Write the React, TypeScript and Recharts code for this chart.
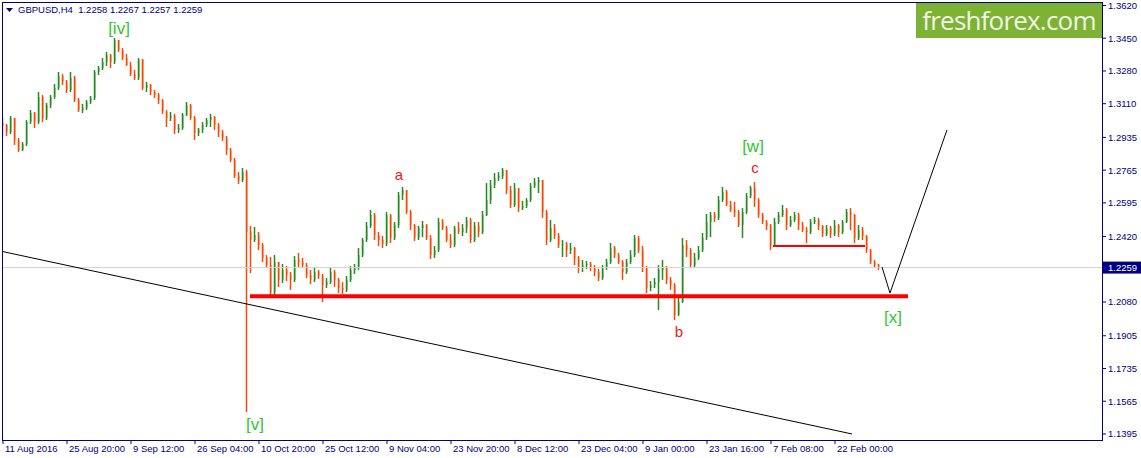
import { Bar, ComposedChart, Line, ReferenceDot, ReferenceLine, XAxis, YAxis } from 'recharts'

// GBPUSD H4, one candle per ~4px column of the original terminal chart
const closes = [
  1.2999, 1.2963, 1.3036, 1.2922, 1.287, 1.2901, 1.3015, 1.3062, 1.3015, 1.3145,
  1.3036, 1.3103, 1.3145, 1.3192, 1.3254, 1.3223, 1.3181, 1.3244, 1.3129, 1.3077,
  1.3088, 1.3119, 1.314, 1.3275, 1.3296, 1.3327, 1.3363, 1.3327, 1.3441, 1.3389,
  1.3347, 1.3311, 1.3264, 1.3244, 1.3337, 1.3192, 1.3207, 1.3171, 1.3155, 1.3129,
  1.3067, 1.3036, 1.3046, 1.2974, 1.2984, 1.3051, 1.3103, 1.3036, 1.2958, 1.2974,
  1.2999, 1.3025, 1.3041, 1.2999, 1.2963, 1.2932, 1.287, 1.2818, 1.2735, 1.2714,
  1.2755, 1.2444, 1.2402, 1.2428, 1.2376, 1.2309, 1.2272, 1.2132, 1.2288, 1.2195,
  1.2246, 1.2221, 1.2195, 1.2298, 1.2288, 1.2272, 1.2221, 1.2195, 1.2236, 1.2215,
  1.2169, 1.2184, 1.2236, 1.2195, 1.2153, 1.2143, 1.2195, 1.2246, 1.2257, 1.2324,
  1.2402, 1.2475, 1.2532, 1.2428, 1.2402, 1.2382, 1.2532, 1.2413, 1.248, 1.2636,
  1.2662, 1.2548, 1.248, 1.2413, 1.2465, 1.248, 1.2413, 1.2324, 1.235, 1.2496,
  1.2465, 1.2402, 1.2376, 1.2465, 1.2444, 1.2465, 1.2506, 1.2402, 1.2475, 1.2444,
  1.2532, 1.261, 1.2688, 1.2724, 1.2735, 1.2766, 1.2662, 1.2584, 1.2672, 1.2568,
  1.2579, 1.261, 1.2683, 1.2703, 1.2714, 1.2548, 1.2402, 1.2465, 1.2428, 1.2376,
  1.2382, 1.235, 1.2361, 1.2309, 1.2257, 1.2272, 1.2278, 1.2257, 1.2236, 1.2205,
  1.2257, 1.2288, 1.2361, 1.2324, 1.2288, 1.2236, 1.2288, 1.2324, 1.2413, 1.235,
  1.2257, 1.2153, 1.2169, 1.2184, 1.2246, 1.2257, 1.2195, 1.2169, 1.2013, 1.208,
  1.2376, 1.235, 1.2272, 1.2309, 1.235, 1.2413, 1.2496, 1.2532, 1.2517, 1.261,
  1.2652, 1.2584, 1.2558, 1.2548, 1.248, 1.2548, 1.2631, 1.2672, 1.261, 1.2532,
  1.2496, 1.2475, 1.2376, 1.2496, 1.2532, 1.2558, 1.248, 1.2506, 1.2532, 1.248,
  1.2454, 1.2444, 1.2496, 1.2506, 1.2475, 1.2433, 1.2465, 1.2433, 1.248, 1.2444,
  1.2496, 1.2548, 1.2532, 1.2413, 1.2454, 1.2423, 1.235, 1.2288, 1.2272, 1.2259
]
const highs = [
  1.3036, 1.3005, 1.3046, 1.3036, 1.2932, 1.2911, 1.3025, 1.3077, 1.3067, 1.3171,
  1.3155, 1.3114, 1.3155, 1.3212, 1.3275, 1.3264, 1.3233, 1.3275, 1.3254, 1.314,
  1.3109, 1.3129, 1.315, 1.3285, 1.3306, 1.3347, 1.3379, 1.3368, 1.3451, 1.3436,
  1.3399, 1.3368, 1.3327, 1.3285, 1.3347, 1.3342, 1.3223, 1.3212, 1.3181, 1.3166,
  1.3135, 1.3077, 1.3067, 1.3057, 1.3005, 1.3062, 1.3119, 1.3109, 1.3046, 1.2984,
  1.3015, 1.3036, 1.3057, 1.3046, 1.301, 1.2974, 1.2942, 1.288, 1.2828, 1.2755,
  1.2776, 1.2766, 1.2475, 1.247, 1.2444, 1.2387, 1.2324, 1.2314, 1.2324, 1.2288,
  1.2278, 1.2267, 1.2236, 1.2319, 1.2335, 1.2309, 1.2283, 1.2247, 1.2257, 1.2247,
  1.2226, 1.2205, 1.2257, 1.2247, 1.2205, 1.2184, 1.2215, 1.2267, 1.2278, 1.2361,
  1.2413, 1.2496, 1.2558, 1.2543, 1.2444, 1.2423, 1.2548, 1.2537, 1.2496, 1.2652,
  1.2678, 1.2652, 1.2558, 1.2485, 1.2475, 1.2501, 1.2485, 1.2428, 1.2371, 1.2517,
  1.2511, 1.2475, 1.2433, 1.2475, 1.2496, 1.2485, 1.2522, 1.2517, 1.2496, 1.2496,
  1.2553, 1.2698, 1.2714, 1.275, 1.2755, 1.2776, 1.2766, 1.2683, 1.2698, 1.2672,
  1.2605, 1.262, 1.2698, 1.2724, 1.2729, 1.2714, 1.2558, 1.2506, 1.2485, 1.2439,
  1.2402, 1.2392, 1.2387, 1.2366, 1.2319, 1.2298, 1.2293, 1.2288, 1.2272, 1.2252,
  1.2272, 1.2304, 1.2387, 1.2371, 1.2335, 1.2298, 1.2304, 1.235, 1.2428, 1.2423,
  1.2371, 1.2267, 1.2189, 1.2205, 1.2272, 1.2298, 1.2267, 1.221, 1.2179, 1.2106,
  1.2413, 1.2402, 1.2361, 1.2335, 1.2371, 1.2439, 1.2537, 1.2548, 1.2548, 1.2631,
  1.2678, 1.2662, 1.2605, 1.26, 1.2558, 1.2568, 1.2646, 1.2683, 1.2703, 1.262,
  1.2543, 1.2506, 1.2485, 1.2517, 1.2548, 1.2584, 1.2568, 1.2527, 1.2548, 1.2543,
  1.2496, 1.247, 1.2511, 1.2522, 1.2517, 1.248, 1.248, 1.2475, 1.2506, 1.2485,
  1.2506, 1.2563, 1.2568, 1.2537, 1.248, 1.247, 1.2428, 1.2356, 1.2298, 1.2278
]
const lows = [
  1.2937, 1.2942, 1.2953, 1.2896, 1.2859, 1.2864, 1.289, 1.3005, 1.2984, 1.3005,
  1.3015, 1.3025, 1.3088, 1.3135, 1.3181, 1.3207, 1.3166, 1.3171, 1.3119, 1.3067,
  1.3062, 1.3077, 1.3109, 1.3129, 1.3259, 1.3285, 1.3306, 1.3296, 1.3316, 1.3379,
  1.3337, 1.3306, 1.3254, 1.3233, 1.3233, 1.3181, 1.3171, 1.3155, 1.314, 1.3109,
  1.3057, 1.2989, 1.302, 1.2953, 1.2958, 1.2974, 1.3046, 1.3025, 1.2922, 1.2942,
  1.2958, 1.2989, 1.2989, 1.2974, 1.2937, 1.2916, 1.2844, 1.2807, 1.2724, 1.2693,
  1.2703, 1.1509, 1.2231, 1.2392, 1.235, 1.2288, 1.2257, 1.2106, 1.2101, 1.2158,
  1.2179, 1.2189, 1.2143, 1.2184, 1.2262, 1.2257, 1.2205, 1.2174, 1.2184, 1.22,
  1.208, 1.2153, 1.2174, 1.2158, 1.2127, 1.2122, 1.2132, 1.2184, 1.2226, 1.2247,
  1.2314, 1.2392, 1.2465, 1.2402, 1.2371, 1.2361, 1.2371, 1.2387, 1.2402, 1.2465,
  1.261, 1.2537, 1.2454, 1.2397, 1.2402, 1.2418, 1.2402, 1.2304, 1.2309, 1.234,
  1.2454, 1.2392, 1.2361, 1.2366, 1.2433, 1.2423, 1.2439, 1.2387, 1.2392, 1.2418,
  1.2433, 1.2527, 1.2589, 1.2672, 1.2709, 1.2719, 1.2641, 1.2568, 1.2574, 1.2548,
  1.2558, 1.2568, 1.26, 1.2672, 1.2646, 1.2517, 1.2376, 1.2392, 1.2408, 1.2361,
  1.2314, 1.2314, 1.233, 1.2272, 1.2231, 1.2236, 1.2252, 1.2241, 1.2215, 1.2189,
  1.2195, 1.2247, 1.2278, 1.2309, 1.2278, 1.2195, 1.2226, 1.2278, 1.2314, 1.2335,
  1.2236, 1.2127, 1.2137, 1.2153, 1.2039, 1.2195, 1.2174, 1.2143, 1.1987, 1.2008,
  1.2075, 1.2314, 1.2257, 1.2262, 1.2298, 1.234, 1.2402, 1.2418, 1.2496, 1.2506,
  1.26, 1.2579, 1.2548, 1.2522, 1.247, 1.2413, 1.2537, 1.262, 1.2574, 1.2517,
  1.2485, 1.2454, 1.235, 1.2366, 1.2485, 1.2522, 1.2454, 1.247, 1.2496, 1.2454,
  1.2444, 1.2387, 1.2433, 1.2485, 1.2454, 1.2418, 1.2423, 1.2413, 1.2423, 1.2418,
  1.2433, 1.2491, 1.2454, 1.2387, 1.2402, 1.2402, 1.2335, 1.2278, 1.2257, 1.2247
]
const firstOpen = 1.301

const headerQuote = ['GBPUSD,H4', '1.2258', '1.2267', '1.2257', '1.2259']

const dateTicks = [0, 16, 32, 48, 64, 80, 96, 112, 128, 144, 160, 176, 192, 208]
const dateLabels = [
  '11 Aug 2016', '25 Aug 20:00', '9 Sep 12:00', '26 Sep 04:00', '10 Oct 20:00',
  '25 Oct 12:00', '9 Nov 04:00', '23 Nov 20:00', '8 Dec 12:00', '23 Dec 04:00',
  '9 Jan 00:00', '23 Jan 16:00', '7 Feb 08:00', '22 Feb 00:00'
]
const priceTicks = [
  1.362, 1.345, 1.328, 1.311, 1.2935, 1.2765, 1.2595, 1.242, 1.208, 1.1905,
  1.1735, 1.1565, 1.1395
]

const trendLine = [{ i: -0.25, p: 1.2343 }, { i: 212.25, p: 1.1395 }]
const supportLine = [{ i: 61.75, p: 1.211 }, { i: 226.25, p: 1.211 }]
const pivotLine = [{ i: 192.5, p: 1.2371 }, { i: 215.5, p: 1.2371 }]
const projection = [{ i: 219.75, p: 1.2262 }, { i: 221.75, p: 1.2127 }, { i: 236, p: 1.2974 }]

const waveLabels = [
  { text: '[iv]', i: 29, p: 1.3503, color: '#33c433', size: 17 },
  { text: '[v]', i: 63, p: 1.1447, color: '#33c433', size: 17 },
  { text: 'a', i: 99, p: 1.274, color: '#f01818', size: 15 },
  { text: 'b', i: 169, p: 1.1925, color: '#f01818', size: 15 },
  { text: '[w]', i: 187.5, p: 1.289, color: '#33c433', size: 17 },
  { text: 'c', i: 188, p: 1.2776, color: '#f01818', size: 15 },
  { text: '[x]', i: 222.5, p: 1.2002, color: '#33c433', size: 17 }
]

const NAVY = '#000080'
const UP = '#228b22'
const DOWN = '#ff4500'
const FONT = '"Liberation Sans", Arial, sans-serif'

const candles = closes.map((close, i) => {
  const open = i === 0 ? firstOpen : closes[i - 1]
  const high = Math.max(open, close, highs[i])
  const low = Math.min(open, close, lows[i])
  return { i, open, close, high, low, range: [low, high] }
})
const lastClose = closes[closes.length - 1]

function Candle(props: any) {
  const { x, y, width, height, index } = props
  const d = candles[index]
  if (x == null || y == null || !d) return null
  const { open, close, high, low } = d
  const k = high > low ? height / (high - low) : 0
  const top = y + (high - Math.max(open, close)) * k
  const bottom = y + (high - Math.min(open, close)) * k
  const color = close > open ? UP : close < open ? DOWN : '#000'
  const cx = Math.floor(x + width / 2) + 0.5
  return (
    <g>
      <line x1={cx} x2={cx} y1={y} y2={y + height} stroke={color} strokeWidth={1.5} />
      <rect x={x} y={top} width={width} height={Math.max(1, bottom - top)} fill={color} />
    </g>
  )
}

function DateTick({ x, y, payload }: any) {
  const label = dateLabels[dateTicks.indexOf(payload.value)]
  return (
    <g>
      <line x1={x} x2={x} y1={y} y2={y + 4} stroke={NAVY} />
      <text x={x + 2} y={y + 12} fill={NAVY} fontSize={9.5} fontFamily={FONT}>
        {label}
      </text>
    </g>
  )
}

function PriceTag(props: any) {
  const vb = props.viewBox
  if (!vb) return null
  const left = vb.x + vb.width + 1
  return (
    <g>
      <rect x={left} y={vb.y - 6} width={40} height={12} fill={NAVY} />
      <text x={left + 5} y={vb.y + 3.5} fill="#fff" fontSize={9.5} fontFamily={FONT}>
        {lastClose.toFixed(4)}
      </text>
    </g>
  )
}

export default function App() {
  return (
    <div style={{ position: 'absolute', left: 0, top: 0, width: 1141, height: 458, background: '#fff' }}>
      <ComposedChart
        width={1141}
        height={458}
        data={candles}
        margin={{ top: 2, right: 0, bottom: 0, left: 2 }}
        style={{ fontFamily: FONT }}>
        <XAxis
          dataKey="i"
          type="number"
          domain={[-0.25, 274.75]}
          allowDataOverflow
          ticks={dateTicks}
          interval={0}
          tick={<DateTick />}
          tickLine={false}
          tickSize={0}
          tickMargin={0}
          axisLine={false}
          height={18}
        />
        <YAxis
          orientation="right"
          type="number"
          domain={[1.13637, 1.36382]}
          allowDataOverflow
          ticks={priceTicks}
          interval={0}
          tickFormatter={(v: number) => v.toFixed(4)}
          tick={{ fontSize: 9.5, fill: NAVY, fontFamily: FONT }}
          tickLine={{ stroke: NAVY }}
          tickSize={4}
          tickMargin={2}
          axisLine={false}
          width={39}
        />
        <ReferenceLine
          y={lastClose}
          stroke="#d3d3d3"
          strokeWidth={1}
          label={(p: any) => <PriceTag viewBox={p.viewBox} />}
        />
        <Line
          data={trendLine}
          dataKey="p"
          type="linear"
          stroke="#000"
          strokeWidth={1}
          dot={false}
          isAnimationActive={false}
        />
        <Bar dataKey="range" barSize={3} shape={<Candle />} isAnimationActive={false} />
        <Line
          data={supportLine}
          dataKey="p"
          type="linear"
          stroke="#ff0000"
          strokeWidth={4}
          dot={false}
          isAnimationActive={false}
        />
        <Line
          data={pivotLine}
          dataKey="p"
          type="linear"
          stroke="#ff0000"
          strokeWidth={2}
          dot={false}
          isAnimationActive={false}
        />
        <Line
          data={projection}
          dataKey="p"
          type="linear"
          stroke="#000"
          strokeWidth={1}
          dot={false}
          isAnimationActive={false}
        />
        {waveLabels.map((w) => (
          <ReferenceDot
            key={w.text + w.i}
            x={w.i}
            y={w.p}
            r={0}
            fill="none"
            stroke="none"
            ifOverflow="visible"
            label={{ value: w.text, position: 'center', fill: w.color, fontSize: w.size, fontFamily: FONT }}
          />
        ))}
      </ComposedChart>

      <div
        style={{
          position: 'absolute',
          left: 2,
          top: 2,
          width: 1101,
          height: 439,
          boxSizing: 'border-box',
          border: `1px solid ${NAVY}`,
          pointerEvents: 'none'
        }}
      />
      <div
        style={{
          position: 'absolute',
          left: 6,
          top: 4,
          display: 'flex',
          alignItems: 'center',
          gap: 5,
          fontFamily: FONT,
          fontSize: 9.5,
          color: NAVY,
          lineHeight: '12px'
        }}>
        <svg width={7} height={5}>
          <polygon points="0,0 7,0 3.5,4" fill={NAVY} />
        </svg>
        <span style={{ whiteSpace: 'pre' }}>
          {headerQuote[0] + '  ' + headerQuote.slice(1).join(' ')}
        </span>
      </div>
      <div
        style={{
          position: 'absolute',
          left: 916,
          top: 3,
          width: 186,
          height: 35,
          background: '#7db234',
          color: '#f2f5e6',
          fontFamily: '"Open Sans", sans-serif',
          fontSize: 26,
          letterSpacing: -0.8,
          lineHeight: '35px',
          textAlign: 'center'
        }}>
        freshforex.com
      </div>
    </div>
  )
}
